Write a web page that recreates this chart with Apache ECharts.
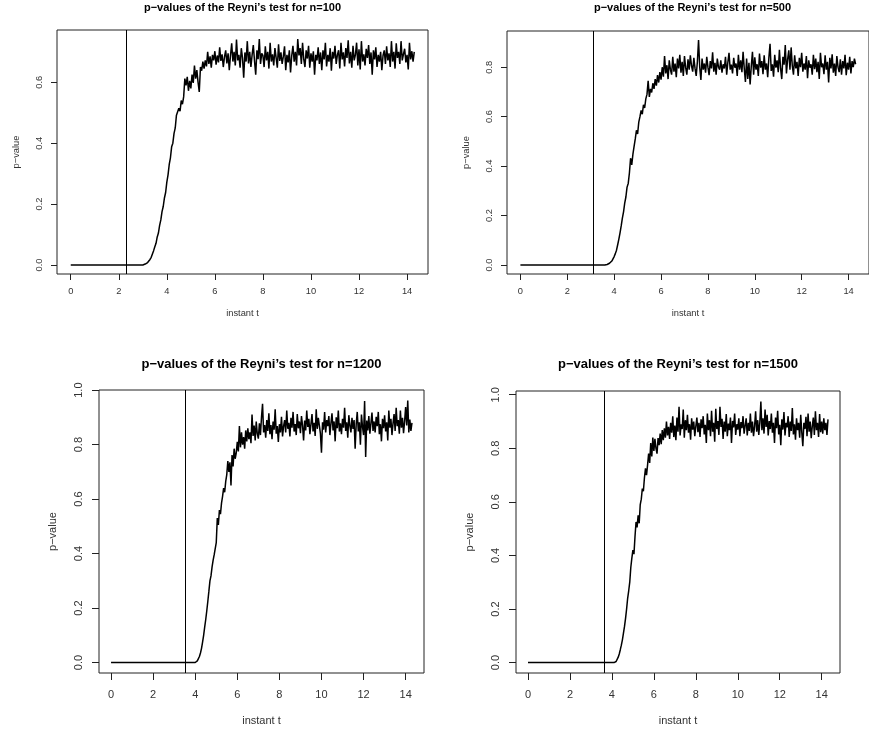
<!DOCTYPE html>
<html>
<head>
<meta charset="utf-8">
<script src="https://cdn.jsdelivr.net/npm/echarts@6/dist/echarts.min.js"></script>
<style>html,body{margin:0;padding:0;background:#fff}#c{width:869px;height:733px}</style>
</head>
<body>
<div id="c"></div>
<script>
// ---- data ----
const STEP = 0.05;             // sampling step of instant t
const titles = [
  "p\u2212values of the Reyni\u2019s test for n=100",
  "p\u2212values of the Reyni\u2019s test for n=500",
  "p\u2212values of the Reyni\u2019s test for n=1200",
  "p\u2212values of the Reyni\u2019s test for n=1500"
];
const xTicks = [0, 2, 4, 6, 8, 10, 12, 14];
const yTicksTop1 = [0, 0.2, 0.4, 0.6];
const yTicksTop2 = [0, 0.2, 0.4, 0.6, 0.8];
const yTicksBottom = [0, 0.2, 0.4, 0.6, 0.8, 1.0];
const vlines = [2.30, 3.11, 3.54, 3.64];   // vertical reference lines
const start100 = 3.00, start500 = 3.60, start1200 = 4.00, start1500 = 4.10; // p-value is 0 before these

const p100 = [
0, 0.001, 0.003, 0.005, 0.008, 0.012, 0.018, 0.025, 0.036, 0.047,
0.060, 0.071, 0.092, 0.105, 0.130, 0.148, 0.175, 0.192, 0.220, 0.238,
0.272, 0.296, 0.330, 0.352, 0.388, 0.400, 0.432, 0.450, 0.492, 0.488,
0.515, 0.505, 0.540, 0.528, 0.552, 0.612, 0.590, 0.618, 0.572, 0.605,
0.580, 0.625, 0.598, 0.655, 0.612, 0.640, 0.600, 0.568, 0.650, 0.638,
0.668, 0.645, 0.672, 0.652, 0.700, 0.660, 0.685, 0.648, 0.690, 0.672,
0.702, 0.658, 0.688, 0.665, 0.715, 0.670, 0.692, 0.650, 0.683, 0.705,
0.662, 0.695, 0.640, 0.688, 0.728, 0.668, 0.700, 0.655, 0.740, 0.672,
0.690, 0.648, 0.712, 0.680, 0.615, 0.698, 0.668, 0.735, 0.662, 0.700,
0.650, 0.690, 0.722, 0.670, 0.625, 0.705, 0.676, 0.742, 0.660, 0.695,
0.688, 0.650, 0.718, 0.672, 0.700, 0.645, 0.730, 0.668, 0.692, 0.655,
0.712, 0.680, 0.648, 0.725, 0.670, 0.698, 0.660, 0.685, 0.718, 0.640,
0.690, 0.665, 0.705, 0.632, 0.688, 0.720, 0.668, 0.700, 0.655, 0.742,
0.688, 0.712, 0.660, 0.730, 0.675, 0.650, 0.705, 0.678, 0.720, 0.648,
0.695, 0.668, 0.702, 0.625, 0.690, 0.672, 0.715, 0.660, 0.698, 0.640,
0.705, 0.675, 0.730, 0.652, 0.690, 0.668, 0.712, 0.638, 0.700, 0.678,
0.720, 0.660, 0.690, 0.705, 0.645, 0.730, 0.675, 0.698, 0.652, 0.712,
0.680, 0.738, 0.662, 0.700, 0.648, 0.720, 0.672, 0.690, 0.730, 0.655,
0.708, 0.642, 0.735, 0.668, 0.692, 0.655, 0.710, 0.680, 0.722, 0.660,
0.698, 0.625, 0.705, 0.675, 0.715, 0.650, 0.690, 0.668, 0.700, 0.640,
0.688, 0.705, 0.660, 0.718, 0.672, 0.695, 0.650, 0.735, 0.668, 0.700,
0.645, 0.728, 0.680, 0.700, 0.660, 0.735, 0.672, 0.692, 0.710, 0.665,
0.690, 0.642, 0.730, 0.675, 0.702, 0.668, 0.700
];

const p500 = [
0, 0.001, 0.002, 0.004, 0.007, 0.011, 0.016, 0.024, 0.034, 0.046,
0.060, 0.082, 0.105, 0.130, 0.158, 0.190, 0.215, 0.250, 0.275, 0.315,
0.330, 0.372, 0.432, 0.405, 0.448, 0.480, 0.510, 0.545, 0.530, 0.578,
0.600, 0.625, 0.610, 0.648, 0.635, 0.672, 0.690, 0.745, 0.680, 0.712,
0.698, 0.735, 0.712, 0.752, 0.725, 0.768, 0.738, 0.780, 0.750, 0.800,
0.762, 0.845, 0.775, 0.808, 0.752, 0.828, 0.790, 0.770, 0.842, 0.782,
0.815, 0.760, 0.835, 0.795, 0.850, 0.778, 0.822, 0.765, 0.845, 0.798,
0.770, 0.832, 0.790, 0.848, 0.805, 0.782, 0.838, 0.795, 0.765, 0.822,
0.910, 0.800, 0.748, 0.835, 0.790, 0.815, 0.778, 0.842, 0.800, 0.768,
0.825, 0.795, 0.860, 0.782, 0.818, 0.770, 0.835, 0.800, 0.790, 0.828,
0.778, 0.812, 0.795, 0.842, 0.770, 0.820, 0.858, 0.790, 0.810, 0.775,
0.838, 0.798, 0.815, 0.765, 0.850, 0.790, 0.828, 0.780, 0.862, 0.795,
0.740, 0.835, 0.752, 0.818, 0.730, 0.805, 0.862, 0.770, 0.840, 0.790,
0.812, 0.765, 0.855, 0.798, 0.825, 0.772, 0.848, 0.790, 0.815, 0.760,
0.838, 0.895, 0.785, 0.812, 0.762, 0.850, 0.798, 0.828, 0.780, 0.870,
0.795, 0.752, 0.842, 0.810, 0.890, 0.775, 0.832, 0.868, 0.790, 0.880,
0.805, 0.770, 0.848, 0.795, 0.822, 0.765, 0.838, 0.800, 0.858, 0.782,
0.815, 0.790, 0.845, 0.755, 0.828, 0.798, 0.812, 0.770, 0.850, 0.792,
0.835, 0.780, 0.822, 0.752, 0.858, 0.800, 0.815, 0.772, 0.848, 0.790,
0.822, 0.738, 0.838, 0.795, 0.852, 0.778, 0.815, 0.765, 0.845, 0.800,
0.780, 0.832, 0.770, 0.825, 0.795, 0.850, 0.768, 0.818, 0.790, 0.842,
0.775, 0.825, 0.800, 0.835, 0.812
];

const p1200 = [
0, 0.002, 0.006, 0.012, 0.022, 0.035, 0.052, 0.075, 0.100, 0.130,
0.158, 0.190, 0.225, 0.262, 0.300, 0.318, 0.350, 0.375, 0.395, 0.392,
0.440, 0.530, 0.505, 0.560, 0.545, 0.585, 0.610, 0.640, 0.625, 0.665,
0.690, 0.740, 0.700, 0.735, 0.650, 0.762, 0.720, 0.785, 0.748, 0.770,
0.810, 0.775, 0.868, 0.790, 0.845, 0.800, 0.828, 0.785, 0.852, 0.812,
0.860, 0.820, 0.845, 0.805, 0.910, 0.832, 0.870, 0.815, 0.885, 0.840,
0.822, 0.878, 0.835, 0.900, 0.950, 0.845, 0.872, 0.825, 0.890, 0.850,
0.915, 0.838, 0.872, 0.820, 0.885, 0.855, 0.930, 0.840, 0.868, 0.810,
0.875, 0.845, 0.902, 0.830, 0.868, 0.890, 0.845, 0.925, 0.858, 0.880,
0.830, 0.898, 0.862, 0.920, 0.848, 0.875, 0.835, 0.912, 0.860, 0.885,
0.842, 0.905, 0.870, 0.815, 0.888, 0.852, 0.925, 0.865, 0.895, 0.838,
0.875, 0.912, 0.848, 0.880, 0.832, 0.930, 0.858, 0.898, 0.870, 0.840,
0.770, 0.882, 0.855, 0.920, 0.845, 0.890, 0.868, 0.905, 0.835, 0.878,
0.915, 0.852, 0.885, 0.812, 0.900, 0.860, 0.925, 0.848, 0.878, 0.838,
0.895, 0.862, 0.935, 0.850, 0.882, 0.825, 0.908, 0.870, 0.845, 0.898,
0.858, 0.890, 0.785, 0.875, 0.920, 0.848, 0.882, 0.800, 0.910, 0.865,
0.835, 0.960, 0.755, 0.888, 0.852, 0.905, 0.840, 0.878, 0.918, 0.850,
0.885, 0.845, 0.902, 0.868, 0.920, 0.838, 0.875, 0.812, 0.895, 0.860,
0.908, 0.848, 0.882, 0.815, 0.925, 0.862, 0.895, 0.835, 0.878, 0.912,
0.850, 0.935, 0.868, 0.890, 0.840, 0.925, 0.862, 0.898, 0.842, 0.885,
0.938, 0.870, 0.962, 0.845, 0.892, 0.850, 0.880
];

const p1500 = [
0, 0.001, 0.004, 0.010, 0.020, 0.032, 0.048, 0.065, 0.085, 0.110,
0.135, 0.165, 0.200, 0.240, 0.268, 0.300, 0.355, 0.390, 0.420, 0.405,
0.470, 0.525, 0.505, 0.550, 0.520, 0.590, 0.610, 0.650, 0.640, 0.690,
0.725, 0.700, 0.738, 0.780, 0.745, 0.820, 0.770, 0.840, 0.790, 0.835,
0.800, 0.780, 0.838, 0.812, 0.855, 0.815, 0.868, 0.830, 0.875, 0.840,
0.900, 0.848, 0.880, 0.835, 0.895, 0.858, 0.920, 0.842, 0.885, 0.830,
0.915, 0.862, 0.955, 0.848, 0.890, 0.872, 0.945, 0.840, 0.905, 0.868,
0.925, 0.858, 0.890, 0.832, 0.912, 0.870, 0.900, 0.845, 0.882, 0.915,
0.860, 0.895, 0.842, 0.908, 0.875, 0.920, 0.852, 0.888, 0.820, 0.930,
0.868, 0.905, 0.845, 0.940, 0.862, 0.895, 0.825, 0.948, 0.872, 0.902,
0.850, 0.955, 0.880, 0.910, 0.835, 0.900, 0.862, 0.928, 0.845, 0.892,
0.868, 0.915, 0.820, 0.902, 0.878, 0.930, 0.850, 0.890, 0.870, 0.912,
0.845, 0.898, 0.875, 0.920, 0.855, 0.885, 0.912, 0.848, 0.895, 0.865,
0.930, 0.858, 0.900, 0.845, 0.882, 0.938, 0.862, 0.905, 0.850, 0.895,
0.975, 0.868, 0.912, 0.855, 0.945, 0.880, 0.925, 0.848, 0.902, 0.872,
0.930, 0.858, 0.895, 0.820, 0.915, 0.875, 0.940, 0.852, 0.888, 0.812,
0.908, 0.870, 0.935, 0.848, 0.895, 0.878, 0.920, 0.842, 0.900, 0.865,
0.950, 0.852, 0.890, 0.832, 0.912, 0.868, 0.895, 0.840, 0.925, 0.860,
0.808, 0.895, 0.872, 0.918, 0.845, 0.930, 0.862, 0.900, 0.838, 0.882,
0.915, 0.850, 0.938, 0.868, 0.895, 0.842, 0.928, 0.860, 0.900, 0.855,
0.912, 0.868, 0.895, 0.850, 0.908
];

// ---- build ----
function pts(t0, vals) {
  const out = [[0, 0]];
  vals.forEach((v, i) => out.push([+(t0 + i * STEP).toFixed(2), v]));
  return out;
}
const seriesData = [pts(start100, p100), pts(start500, p500), pts(start1200, p1200), pts(start1500, p1500)];
const yTickSets = [yTicksTop1, yTicksTop2, yTicksBottom, yTicksBottom];

// R-style 4% range extension
function rng(arr, idx) {
  let lo = Infinity, hi = -Infinity;
  arr.forEach(p => { lo = Math.min(lo, p[idx]); hi = Math.max(hi, p[idx]); });
  const e = (hi - lo) * 0.04;
  return [lo - e, hi + e];
}

const FONT = '"Liberation Sans", Arial, Helvetica, sans-serif';
const grids = [
  { left: 57, top: 30, width: 371, height: 244 },
  { left: 507, top: 31, width: 371, height: 243 },
  { left: 99, top: 390, width: 325, height: 283 },
  { left: 516, top: 391, width: 324, height: 282 }
];
const sty = [
  { title: 11, tick: 9.3, tickLen: 6, xMargin: 13, yMargin: 13, xGap: 35, yGap: 36, titleTop: 2 },
  { title: 11, tick: 9.3, tickLen: 6, xMargin: 13, yMargin: 13, xGap: 35, yGap: 36, titleTop: 2 },
  { title: 13, tick: 11, tickLen: 7, xMargin: 16, yMargin: 15, xGap: 42, yGap: 41, titleTop: 358 },
  { title: 13, tick: 11, tickLen: 7, xMargin: 16, yMargin: 15, xGap: 42, yGap: 41, titleTop: 358 }
];

const option = {
  animation: false,
  backgroundColor: '#fff',
  title: titles.map((t, i) => ({
    text: t, left: grids[i].left + grids[i].width / 2, top: sty[i].titleTop, textAlign: 'center', padding: 0,
    textStyle: { fontFamily: FONT, fontWeight: 'bold', fontSize: sty[i].title, color: '#000' }
  })),
  grid: grids.map(g => Object.assign({ show: true, borderColor: '#222', borderWidth: 1, backgroundColor: 'transparent', containLabel: false }, g)),
  xAxis: seriesData.map((d, i) => {
    const r = rng(d, 0);
    return {
      type: 'value', gridIndex: i, min: r[0], max: r[1], position: 'bottom',
      name: 'instant t', nameLocation: 'middle', nameGap: sty[i].xGap,
      nameTextStyle: { fontFamily: FONT, fontSize: sty[i].tick, color: '#333' },
      axisLine: { show: false, onZero: false }, splitLine: { show: false },
      axisTick: { show: true, inside: false, length: sty[i].tickLen, customValues: xTicks, lineStyle: { color: '#222' } },
      axisLabel: { customValues: xTicks, margin: sty[i].xMargin, fontFamily: FONT, fontSize: sty[i].tick, color: '#333',
        formatter: v => String(Math.round(v)) }
    };
  }),
  yAxis: seriesData.map((d, i) => {
    const r = rng(d, 1);
    return {
      type: 'value', gridIndex: i, min: r[0], max: r[1], position: 'left',
      name: 'p\u2212value', nameLocation: 'middle', nameGap: sty[i].yGap,
      nameTextStyle: { fontFamily: FONT, fontSize: sty[i].tick, color: '#333' },
      axisLine: { show: false, onZero: false }, splitLine: { show: false },
      axisTick: { show: true, inside: false, length: sty[i].tickLen, customValues: yTickSets[i], lineStyle: { color: '#222' } },
      axisLabel: { customValues: yTickSets[i], rotate: 90, margin: sty[i].yMargin, fontFamily: FONT, fontSize: sty[i].tick, color: '#333',
        formatter: v => v.toFixed(1) }
    };
  }),
  series: seriesData.map((d, i) => ({
    type: 'line', xAxisIndex: i, yAxisIndex: i, data: d,
    showSymbol: false, symbol: 'none', sampling: null, smooth: false,
    lineStyle: { color: '#000', width: 1.5 },
    markLine: {
      silent: true, symbol: ['none', 'none'], label: { show: false },
      lineStyle: { color: '#000', width: 1, type: 'solid' },
      data: [{ xAxis: vlines[i] }]
    }
  }))
};
const chart = echarts.init(document.getElementById('c'), null, { renderer: 'canvas' });
chart.setOption(option);
</script>
</body>
</html>
